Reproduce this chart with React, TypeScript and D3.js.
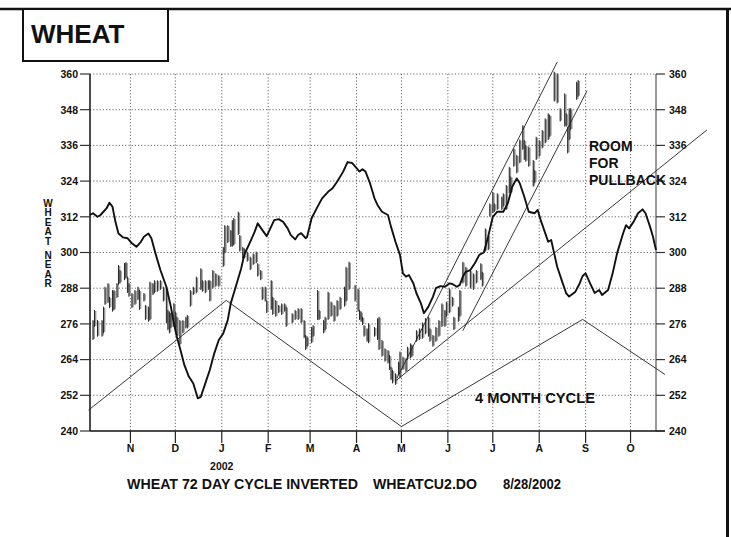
import React from "react";
import * as d3 from "d3";

const monthTickDates = ["2001-11-01","2001-12-01","2002-01-01","2002-02-01","2002-03-01","2002-04-01","2002-05-01","2002-06-01","2002-07-01","2002-08-01","2002-09-01","2002-10-01"];
const monthTickLabels = ["N","D","J","F","M","A","M","J","J","A","S","O"];
const yTickValues = [240,252,264,276,288,300,312,324,336,348,360];

const barDates = [
"2001-10-07","2001-10-08","2001-10-10","2001-10-13","2001-10-14","2001-10-15","2001-10-17","2001-10-18","2001-10-20","2001-10-21",
"2001-10-23","2001-10-24","2001-10-25","2001-10-28","2001-10-29","2001-10-30","2001-10-31","2001-11-02","2001-11-04","2001-11-06",
"2001-11-07","2001-11-10","2001-11-11","2001-11-13","2001-11-14","2001-11-16","2001-11-17","2001-11-19","2001-11-21","2001-11-23",
"2001-11-25","2001-11-26","2001-11-27","2001-11-28","2001-11-30","2001-12-01","2001-12-02","2001-12-04","2001-12-06","2001-12-08",
"2001-12-09","2001-12-11","2001-12-13","2001-12-15","2001-12-18","2001-12-19","2001-12-21","2001-12-23","2001-12-24","2001-12-26",
"2001-12-28","2001-12-30","2002-01-02","2002-01-03","2002-01-05","2002-01-07","2002-01-08","2002-01-09","2002-01-12","2002-01-13",
"2002-01-15","2002-01-16","2002-01-18","2002-01-20","2002-01-22","2002-01-24","2002-01-25","2002-01-27","2002-01-28","2002-01-30",
"2002-01-31","2002-02-03","2002-02-04","2002-02-06","2002-02-08","2002-02-10","2002-02-12","2002-02-13","2002-02-17","2002-02-19",
"2002-02-21","2002-02-23","2002-02-25","2002-02-26","2002-02-27","2002-03-02","2002-03-03","2002-03-06","2002-03-07","2002-03-10",
"2002-03-11","2002-03-13","2002-03-15","2002-03-17","2002-03-19","2002-03-21","2002-03-24","2002-03-25","2002-03-27","2002-03-31",
"2002-04-02","2002-04-03","2002-04-04","2002-04-05","2002-04-06","2002-04-08","2002-04-09","2002-04-13","2002-04-15","2002-04-16",
"2002-04-18","2002-04-20","2002-04-22","2002-04-23","2002-04-24","2002-04-25","2002-04-27","2002-04-29","2002-04-30","2002-05-02",
"2002-05-04","2002-05-05","2002-05-07","2002-05-08","2002-05-11","2002-05-13","2002-05-15","2002-05-17","2002-05-19","2002-05-20",
"2002-05-22","2002-05-24","2002-05-26","2002-05-28","2002-05-30","2002-05-31","2002-06-02","2002-06-04","2002-06-05","2002-06-08",
"2002-06-09","2002-06-11","2002-06-13","2002-06-16","2002-06-18","2002-06-20","2002-06-23","2002-06-24","2002-06-26","2002-06-28",
"2002-06-29","2002-07-01","2002-07-02","2002-07-04","2002-07-07","2002-07-08","2002-07-10","2002-07-12","2002-07-13","2002-07-15",
"2002-07-17","2002-07-19","2002-07-21","2002-07-22","2002-07-23","2002-07-25","2002-07-28","2002-07-29","2002-07-30","2002-08-01",
"2002-08-03","2002-08-05","2002-08-07","2002-08-08","2002-08-11","2002-08-13","2002-08-15","2002-08-18","2002-08-19","2002-08-20",
"2002-08-21","2002-08-22","2002-08-26","2002-08-27"];
const barHighs = [
277.3,280.7,277.3,277.3,281.8,288.5,289.7,285.1,287.4,287.4,
289.7,295.8,294.1,296.5,296.8,291.9,289.7,286.4,287.4,288.5,
287.4,286.4,282.4,281.8,290.2,289.7,290.7,290.7,290.7,288.5,
288.5,280.7,280.1,279.6,283.0,280.1,278.4,277.3,277.3,278.4,
279.0,287.4,288.5,291.9,294.7,290.7,290.7,290.7,290.7,294.1,
293.0,292.4,301.9,309.2,309.2,307.6,310.9,311.6,313.7,305.9,
301.9,301.4,300.3,298.6,299.7,300.3,296.4,294.1,288.5,288.5,
284.0,290.7,285.1,284.0,282.4,282.9,282.9,281.8,279.6,280.7,
281.3,281.3,277.3,272.3,271.7,275.0,275.6,287.4,280.7,277.3,
278.4,286.8,283.5,282.4,284.0,285.1,288.5,295.2,296.9,289.1,
287.9,280.7,280.1,278.4,275.6,274.5,276.2,275.0,277.9,278.4,
270.6,267.8,267.2,265.5,261.6,260.5,259.4,263.3,266.7,265.0,
264.4,268.3,269.5,268.9,273.9,274.5,276.5,278.0,278.4,274.5,
272.3,275.0,277.3,282.9,280.7,283.5,287.9,285.1,278.4,281.8,
287.4,296.9,295.2,294.1,293.0,294.1,296.4,293.5,308.1,305.9,
316.5,320.4,316.5,319.9,318.8,319.9,322.7,328.8,325.5,335.0,
332.8,338.0,342.8,337.8,336.1,335.6,331.1,327.7,338.9,337.8,
341.2,345.1,346.8,346.2,360.8,360.2,348.5,353.5,346.8,342.3,
348.5,348.5,357.4,358.0];
const barLows = [
270.6,275.0,271.7,271.7,272.9,282.4,283.0,281.3,280.1,280.7,
284.7,289.1,289.7,290.7,291.4,286.4,285.1,281.3,282.4,284.0,
280.7,283.5,277.3,276.7,277.3,285.7,286.4,286.8,287.4,283.5,
276.2,273.9,272.8,274.6,275.0,274.5,271.7,268.9,272.8,274.5,
274.5,281.8,285.7,286.3,287.4,286.8,286.3,287.4,283.5,287.9,
288.5,288.5,295.2,299.7,303.2,301.9,301.9,302.5,305.9,300.3,
298.0,298.0,296.9,294.1,295.8,296.4,291.9,290.7,284.0,283.5,
279.6,280.7,279.0,278.4,279.6,279.0,280.1,275.0,276.2,277.3,
277.3,276.2,271.2,267.2,268.3,269.5,271.7,277.3,277.3,272.8,
273.9,277.3,278.4,276.7,278.4,280.7,281.8,283.5,287.4,283.5,
280.1,277.3,276.7,275.6,271.7,270.0,269.5,271.7,270.6,267.2,
265.0,263.3,262.7,260.5,257.1,256.0,255.5,258.8,257.7,260.5,
259.9,263.9,264.4,265.0,270.0,270.6,271.0,272.5,271.7,270.0,
268.3,270.0,271.7,275.0,275.0,278.4,279.6,281.8,273.9,276.7,
278.4,289.6,288.5,287.9,287.4,289.6,290.7,288.5,300.3,300.8,
312.0,313.2,313.7,314.3,314.3,315.4,314.3,319.9,319.9,328.8,
326.6,330.0,334.5,331.1,330.5,328.8,322.1,323.3,331.1,332.2,
335.0,336.7,337.8,338.9,350.7,350.1,344.0,342.3,342.3,333.3,
337.8,341.2,351.3,352.4];

const cycleDates = [
"2001-10-05","2001-10-07","2001-10-10","2001-10-12","2001-10-16","2001-10-18","2001-10-20","2001-10-22","2001-10-24","2001-10-27",
"2001-10-30","2001-11-02","2001-11-05","2001-11-08","2001-11-10","2001-11-13","2001-11-15","2001-11-18","2001-11-21","2001-11-25",
"2001-11-28","2001-11-30","2001-12-02","2001-12-05","2001-12-07","2001-12-10","2001-12-13","2001-12-16","2001-12-18","2001-12-21",
"2001-12-24","2001-12-27","2001-12-30","2002-01-02","2002-01-05","2002-01-07","2002-01-11","2002-01-14","2002-01-16","2002-01-20",
"2002-01-23","2002-01-25","2002-01-28","2002-01-31","2002-02-03","2002-02-05","2002-02-08","2002-02-11","2002-02-14","2002-02-16",
"2002-02-19","2002-02-21","2002-02-23","2002-02-26","2002-02-27","2002-03-02","2002-03-06","2002-03-09","2002-03-13","2002-03-16",
"2002-03-19","2002-03-23","2002-03-26","2002-03-29","2002-04-01","2002-04-03","2002-04-05","2002-04-07","2002-04-10","2002-04-13",
"2002-04-15","2002-04-18","2002-04-22","2002-04-24","2002-04-27","2002-04-30","2002-05-02","2002-05-04","2002-05-06","2002-05-09",
"2002-05-11","2002-05-14","2002-05-16","2002-05-19","2002-05-22","2002-05-24","2002-05-27","2002-05-30","2002-06-02","2002-06-04",
"2002-06-07","2002-06-09","2002-06-11","2002-06-13","2002-06-16","2002-06-19","2002-06-22","2002-06-25","2002-06-28","2002-07-01",
"2002-07-04","2002-07-08","2002-07-11","2002-07-14","2002-07-17","2002-07-19","2002-07-22","2002-07-25","2002-07-29","2002-07-31",
"2002-08-02","2002-08-05","2002-08-07","2002-08-09","2002-08-11","2002-08-13","2002-08-16","2002-08-19","2002-08-21","2002-08-25",
"2002-08-28","2002-08-30","2002-09-01","2002-09-04","2002-09-07","2002-09-10","2002-09-12","2002-09-16","2002-09-19","2002-09-22",
"2002-09-26","2002-09-28","2002-09-30","2002-10-03","2002-10-06","2002-10-09","2002-10-11","2002-10-14","2002-10-16","2002-10-18"];
const cycleValues = [
312.6,313.2,312.0,312.6,314.8,316.7,315.4,310.3,306.4,305.1,
304.8,303.1,301.9,303.6,305.3,306.4,304.8,299.2,294.1,288.5,
281.8,276.2,271.7,266.1,262.2,258.3,256.0,251.0,251.5,256.0,
260.5,266.1,270.6,272.8,277.3,282.9,289.6,294.7,299.2,303.6,
307.0,309.8,307.6,305.5,308.7,310.9,311.2,310.3,308.1,305.9,
304.4,305.9,306.5,304.8,305.3,311.5,315.4,318.2,320.4,321.6,
323.8,327.1,330.4,330.1,328.4,327.2,328.0,327.2,323.3,318.2,
316.0,313.7,312.6,308.7,303.6,299.2,293.0,291.9,292.4,289.6,
286.3,282.9,279.6,281.8,285.1,288.0,288.7,288.5,289.6,289.4,
288.5,289.1,291.9,293.5,294.1,296.4,299.2,300.0,305.5,312.0,
313.7,313.7,316.5,322.1,324.9,323.3,318.8,313.7,313.2,314.3,
310.9,306.5,303.6,304.2,299.7,295.2,290.7,286.3,285.2,286.7,
289.6,292.1,293.0,289.6,286.4,287.4,285.7,287.4,292.9,299.7,
306.4,309.2,308.1,310.3,313.2,314.5,313.2,308.7,305.3,300.8];

const monthCycleDates = ["2001-10-04","2002-01-04","2002-05-01","2002-08-30","2002-10-24"];
const monthCycleValues = [247.0,283.9,241.5,277.5,259.0];

const trendStartDates = ["2002-04-27","2002-04-28","2002-06-11"];
const trendStartValues = [256.8,257.8,273.7];
const trendEndDates = ["2002-11-21","2002-08-13","2002-09-02"];
const trendEndValues = [341.2,364.0,354.4];

const yAxisTitle = "WHEAT NEAR";
const captionParts = ["WHEAT 72 DAY CYCLE INVERTED","WHEATCU2.DO","8/28/2002"];

const FONT = "'Liberation Sans', Arial, Helvetica, sans-serif";

export default function App() {
  const parse = d3.timeParse("%Y-%m-%d");
  const x = d3.scaleTime().domain([parse("2001-10-05")!, parse("2002-10-18")!]).range([90, 656]);
  const y = d3.scaleLinear().domain([240, 360]).range([431, 74]);
  const left = 90, right = 656, top = 74, bottom = 431;

  const cycleLine = d3.line<number>()
    .x((_, i) => x(parse(cycleDates[i])!))
    .y((v) => y(v))
    .curve(d3.curveLinear);
  const zigLine = d3.line<number>()
    .x((_, i) => x(parse(monthCycleDates[i])!))
    .y((v) => y(v));

  const letterPos: { ch: string; y: number }[] = [];
  let ty = 203;
  yAxisTitle.split("").forEach((ch) => {
    if (ch === " ") { ty += 4.5; return; }
    letterPos.push({ ch, y: ty });
    ty += 9.5;
  });

  return (
    <svg width={731} height={537} style={{ display: "block", background: "#fff" }} fontFamily={FONT}>
      <style>{`body{margin:0}`}</style>
      <rect x={0} y={0} width={731} height={537} fill="#fff" />
      {/* frame */}
      <line x1={0} x2={731} y1={9} y2={9} stroke="#111" strokeWidth={2.5} />
      <line x1={727.5} x2={727.5} y1={8} y2={537} stroke="#111" strokeWidth={3} />
      <rect x={23} y={9} width={145} height={52} fill="#fff" stroke="#111" strokeWidth={2} />
      <text x={31} y={43} fontSize={26} fontWeight="bold" fill="#111">WHEAT</text>

      {/* grid */}
      {yTickValues.filter((v) => v !== 240).map((v) => (
        <line key={"gy" + v} x1={left} x2={right} y1={y(v)} y2={y(v)} stroke="#444" strokeWidth={0.8} strokeDasharray="1.2,2" />
      ))}
      {monthTickDates.map((d) => (
        <line key={"gx" + d} x1={x(parse(d)!)} x2={x(parse(d)!)} y1={top} y2={bottom} stroke="#444" strokeWidth={0.8} strokeDasharray="1.2,2" />
      ))}

      {/* axes */}
      <line x1={left} x2={left} y1={top} y2={bottom} stroke="#111" strokeWidth={1.5} />
      <line x1={right} x2={right} y1={top} y2={bottom} stroke="#555" strokeWidth={1.2} />
      <line x1={left} x2={right + 9} y1={bottom} y2={bottom} stroke="#111" strokeWidth={1.5} />
      {yTickValues.map((v) => (
        <g key={"yt" + v}>
          <line x1={80} x2={left} y1={y(v)} y2={y(v)} stroke="#333" strokeWidth={1.2} />
          <line x1={right} x2={right + 9} y1={y(v)} y2={y(v)} stroke="#333" strokeWidth={1.2} />
          <text x={78} y={y(v) + 3.8} fontSize={10.5} fontWeight="bold" textAnchor="end" fill="#111">{v}</text>
          <text x={669} y={y(v) + 3.8} fontSize={10.5} fontWeight="bold" fill="#111">{v}</text>
        </g>
      ))}
      {monthTickDates.map((d, i) => (
        <g key={"xt" + d}>
          <line x1={x(parse(d)!)} x2={x(parse(d)!)} y1={bottom} y2={bottom + 12} stroke="#222" strokeWidth={1.2} />
          <text x={x(parse(d)!)} y={bottom + 21} fontSize={10.5} fontWeight="bold" textAnchor="middle" fill="#111">{monthTickLabels[i]}</text>
        </g>
      ))}
      <text x={x(parse(monthTickDates[2])!)} y={bottom + 39} fontSize={10.5} fontWeight="bold" textAnchor="middle" fill="#111">2002</text>
      <text x={127} y={489} fontSize={14} fontWeight="bold" fill="#111" textLength={231} lengthAdjust="spacingAndGlyphs">{captionParts[0]}</text>
      <text x={373} y={489} fontSize={14} fontWeight="bold" fill="#111" textLength={104} lengthAdjust="spacingAndGlyphs">{captionParts[1]}</text>
      <text x={503} y={489} fontSize={14} fontWeight="bold" fill="#111" textLength={58} lengthAdjust="spacingAndGlyphs">{captionParts[2]}</text>

      <text fontSize={10} fontWeight="bold" textAnchor="middle" fill="#111">
        {letterPos.map((l, i) => (
          <tspan key={"lt" + i} x={48} y={l.y + 3.6}>{l.ch}</tspan>
        ))}
      </text>

      {/* bars */}
      {barDates.map((d, i) => {
        const bx = x(parse(d)!);
        const yh = y(barHighs[i]);
        const yl = y(barLows[i]);
        return (
          <g key={"b" + i}>
            <rect x={bx - 0.3} y={yh + 1} width={2.2} height={Math.max(1, yl - yh - 2)} fill="#999" />
            <line x1={bx} x2={bx} y1={yh} y2={yl} stroke="#1a1a1a" strokeWidth={0.9} />
          </g>
        );
      })}

      {/* straight lines */}
      <path d={zigLine(monthCycleValues) || ""} fill="none" stroke="#222" strokeWidth={0.9} />
      {trendStartDates.map((d, i) => (
        <line key={"tr" + i} x1={x(parse(d)!)} y1={y(trendStartValues[i])} x2={x(parse(trendEndDates[i])!)} y2={y(trendEndValues[i])} stroke="#222" strokeWidth={0.9} />
      ))}

      {/* cycle */}
      <path d={cycleLine(cycleValues) || ""} fill="none" stroke="#111" strokeWidth={1.9} strokeLinejoin="round" />

      {/* annotations */}
      <text x={589} y={151} fontSize={14} fontWeight="bold" fill="#111">ROOM</text>
      <text x={589} y={168} fontSize={14} fontWeight="bold" fill="#111">FOR</text>
      <text x={589} y={185} fontSize={14} fontWeight="bold" fill="#111">PULLBACK</text>
      <text x={475} y={403} fontSize={14} fontWeight="bold" fill="#111" textLength={120} lengthAdjust="spacingAndGlyphs">4 MONTH CYCLE</text>
    </svg>
  );
}
